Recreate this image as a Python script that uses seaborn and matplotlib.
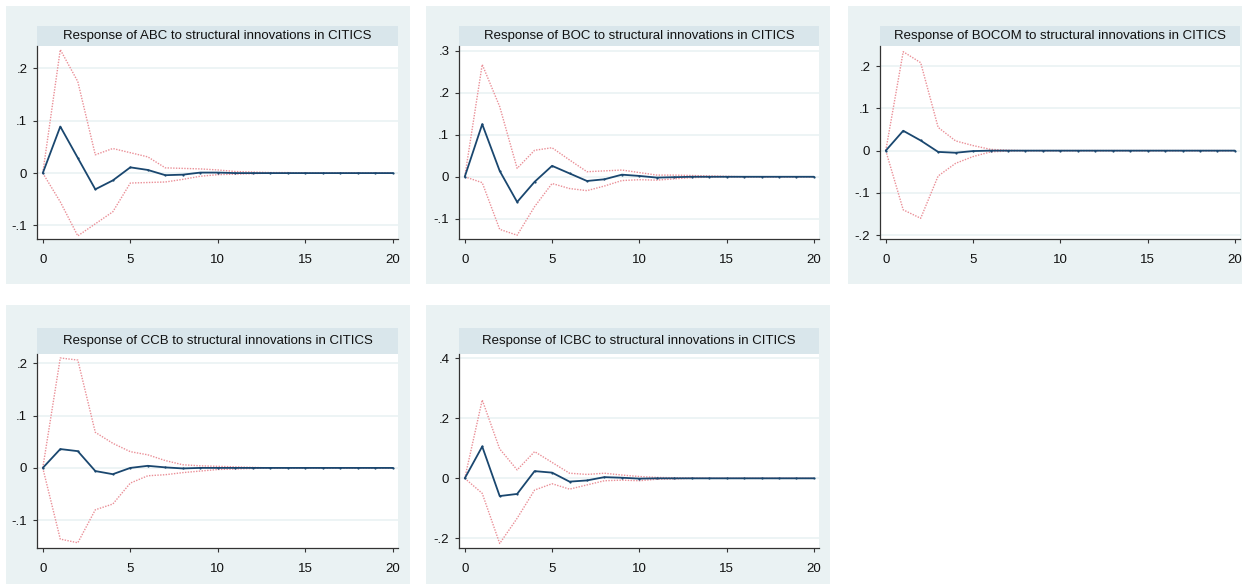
import numpy as np
import pandas as pd
import matplotlib
matplotlib.use("Agg")
import matplotlib.pyplot as plt
from matplotlib.patches import Rectangle
import seaborn as sns

steps = list(range(21))

banks = ["ABC", "BOC", "BOCOM", "CCB", "ICBC"]

abc_irf = [0, 0.089, 0.029, -0.031, -0.014, 0.011, 0.006, -0.004, -0.003, 0.001, 0.001, 0, 0, 0, 0, 0, 0, 0, 0, 0, 0]
abc_hi = [0, 0.236, 0.175, 0.035, 0.047, 0.039, 0.031, 0.010, 0.009, 0.008, 0.006, 0.003, 0.002, 0.001, 0.001, 0, 0, 0, 0, 0, 0]
abc_lo = [0, -0.055, -0.120, -0.097, -0.074, -0.019, -0.018, -0.017, -0.012, -0.006, -0.003, -0.002, -0.001, 0, 0, 0, 0, 0, 0, 0, 0]

boc_irf = [0, 0.125, 0.014, -0.060, -0.012, 0.026, 0.008, -0.010, -0.006, 0.005, 0.002, -0.002, -0.001, 0, 0, 0, 0, 0, 0, 0, 0]
boc_hi = [0, 0.267, 0.167, 0.020, 0.063, 0.069, 0.040, 0.012, 0.014, 0.016, 0.010, 0.004, 0.004, 0.003, 0.002, 0.001, 0, 0, 0, 0, 0]
boc_lo = [0, -0.014, -0.125, -0.139, -0.071, -0.016, -0.028, -0.033, -0.022, -0.009, -0.007, -0.008, -0.005, -0.002, -0.001, 0, 0, 0, 0, 0, 0]

bocom_irf = [0, 0.047, 0.024, -0.003, -0.005, -0.001, 0, 0, 0, 0, 0, 0, 0, 0, 0, 0, 0, 0, 0, 0, 0]
bocom_hi = [0, 0.234, 0.208, 0.055, 0.023, 0.012, 0.003, 0.001, 0, 0, 0, 0, 0, 0, 0, 0, 0, 0, 0, 0, 0]
bocom_lo = [0, -0.140, -0.160, -0.060, -0.030, -0.014, -0.003, -0.001, 0, 0, 0, 0, 0, 0, 0, 0, 0, 0, 0, 0, 0]

ccb_irf = [0, 0.036, 0.032, -0.006, -0.012, 0.0, 0.004, 0.001, -0.001, 0, 0, 0, 0, 0, 0, 0, 0, 0, 0, 0, 0]
ccb_hi = [0, 0.210, 0.206, 0.068, 0.047, 0.031, 0.025, 0.014, 0.006, 0.004, 0.003, 0.002, 0.001, 0, 0, 0, 0, 0, 0, 0, 0]
ccb_lo = [0, -0.136, -0.143, -0.080, -0.069, -0.029, -0.015, -0.013, -0.009, -0.006, -0.003, -0.002, -0.001, 0, 0, 0, 0, 0, 0, 0, 0]

icbc_irf = [0, 0.106, -0.059, -0.052, 0.024, 0.019, -0.011, -0.007, 0.004, 0.002, -0.001, 0, 0, 0, 0, 0, 0, 0, 0, 0, 0]
icbc_hi = [0, 0.261, 0.098, 0.028, 0.089, 0.053, 0.017, 0.013, 0.017, 0.011, 0.006, 0.003, 0.002, 0.001, 0, 0, 0, 0, 0, 0, 0]
icbc_lo = [0, -0.050, -0.217, -0.133, -0.039, -0.018, -0.036, -0.022, -0.008, -0.006, -0.008, -0.003, -0.002, 0, 0, 0, 0, 0, 0, 0, 0]

x_ticks = [0, 5, 10, 15, 20]
y_ticks = {
    "ABC": [-0.1, 0, 0.1, 0.2],
    "BOC": [-0.1, 0, 0.1, 0.2, 0.3],
    "BOCOM": [-0.2, -0.1, 0, 0.1, 0.2],
    "CCB": [-0.1, 0, 0.1, 0.2],
    "ICBC": [-0.2, 0, 0.2, 0.4],
}
y_limits = {
    "ABC": (-0.126, 0.243),
    "BOC": (-0.148, 0.311),
    "BOCOM": (-0.209, 0.2475),
    "CCB": (-0.153, 0.2176),
    "ICBC": (-0.232, 0.414),
}
series = {
    "ABC": (abc_irf, abc_hi, abc_lo),
    "BOC": (boc_irf, boc_hi, boc_lo),
    "BOCOM": (bocom_irf, bocom_hi, bocom_lo),
    "CCB": (ccb_irf, ccb_hi, ccb_lo),
    "ICBC": (icbc_irf, icbc_hi, icbc_lo),
}

sns.set_style("white")
plt.rcParams["font.family"] = ["Liberation Sans", "DejaVu Sans"]

W, H = 1242, 584
fig = plt.figure(figsize=(W / 100, H / 100), dpi=100)
fig.patch.set_facecolor("white")

BG = "#eaf2f3"
STRIP = "#d9e6eb"
NAVY = "#1a476f"
CI = "#ea8f97"

layout = {
    "ABC": dict(bg=(6, 6, 410, 284), ax=(37, 46, 398, 239), strip=26),
    "BOC": dict(bg=(426, 6, 830, 284), ax=(459, 46, 819, 239), strip=26),
    "BOCOM": dict(bg=(848, 6, 1250, 284), ax=(880, 46, 1240, 239), strip=26),
    "CCB": dict(bg=(6, 305, 410, 590), ax=(37, 354, 398, 548), strip=328),
    "ICBC": dict(bg=(426, 305, 830, 590), ax=(459, 354, 819, 548), strip=328),
}


def fx(px):
    return px / W


def fy(py):
    return 1 - py / H


def fmt(v):
    if abs(v) < 1e-9:
        return "0"
    s = f"{v:.1f}"
    return s.replace("0.", ".")


for bank in banks:
    L = layout[bank]
    x0, y0, x1, y1 = L["bg"]
    fig.patches.append(Rectangle((fx(x0), fy(y1)), fx(x1 - x0), (y1 - y0) / H,
                                 transform=fig.transFigure, facecolor=BG,
                                 edgecolor="none", zorder=-3))
    ax0, ay0, ax1, ay1 = L["ax"]
    st = L["strip"]
    fig.patches.append(Rectangle((fx(ax0), fy(ay0)), fx(ax1 - ax0), (ay0 - st) / H,
                                 transform=fig.transFigure, facecolor=STRIP,
                                 edgecolor="none", zorder=-2))
    fig.text(fx((ax0 + ax1) / 2), fy((ay0 + st) / 2),
             f"Response of {bank} to structural innovations in CITICS",
             ha="center", va="center", fontsize=9.5, color="#111111", zorder=5)

    ax = fig.add_axes([fx(ax0), fy(ay1), fx(ax1 - ax0), (ay1 - ay0) / H])
    ax.set_zorder(1)
    ax.set_facecolor("white")
    irf, hi, lo = series[bank]
    df = pd.DataFrame({"step": steps, "irf": irf, "hi": hi, "lo": lo})
    for yt in y_ticks[bank]:
        ax.axhline(yt, color=BG, lw=1.2, zorder=0)
    sns.lineplot(data=df, x="step", y="hi", ax=ax, color=CI, lw=1.0,
                 linestyle=(0, (1, 1)), zorder=2)
    sns.lineplot(data=df, x="step", y="lo", ax=ax, color=CI, lw=1.0,
                 linestyle=(0, (1, 1)), zorder=2)
    sns.lineplot(data=df, x="step", y="irf", ax=ax, color=NAVY, lw=1.3,
                 marker="o", markersize=1.6, markeredgewidth=0, zorder=3)
    ax.set_xlim(-0.33, 20.29)
    ax.set_ylim(*y_limits[bank])
    ax.set_xticks(x_ticks)
    ax.set_xticklabels([str(t) for t in x_ticks])
    ax.set_yticks(y_ticks[bank])
    ax.set_yticklabels([fmt(t) for t in y_ticks[bank]])
    ax.set_xlabel("")
    ax.set_ylabel("")
    for side in ["top", "right"]:
        ax.spines[side].set_visible(False)
    for side in ["left", "bottom"]:
        ax.spines[side].set_color("#333333")
        ax.spines[side].set_linewidth(0.9)
    ax.tick_params(axis="both", which="both", direction="out", length=3,
                   width=0.8, color="#333333", labelsize=9.5, labelcolor="#111111")
    ax.tick_params(axis="x", pad=8, bottom=True)
    ax.tick_params(axis="y", pad=4, left=True)
    ax.grid(False)

fig.savefig("out.png", dpi=100)
